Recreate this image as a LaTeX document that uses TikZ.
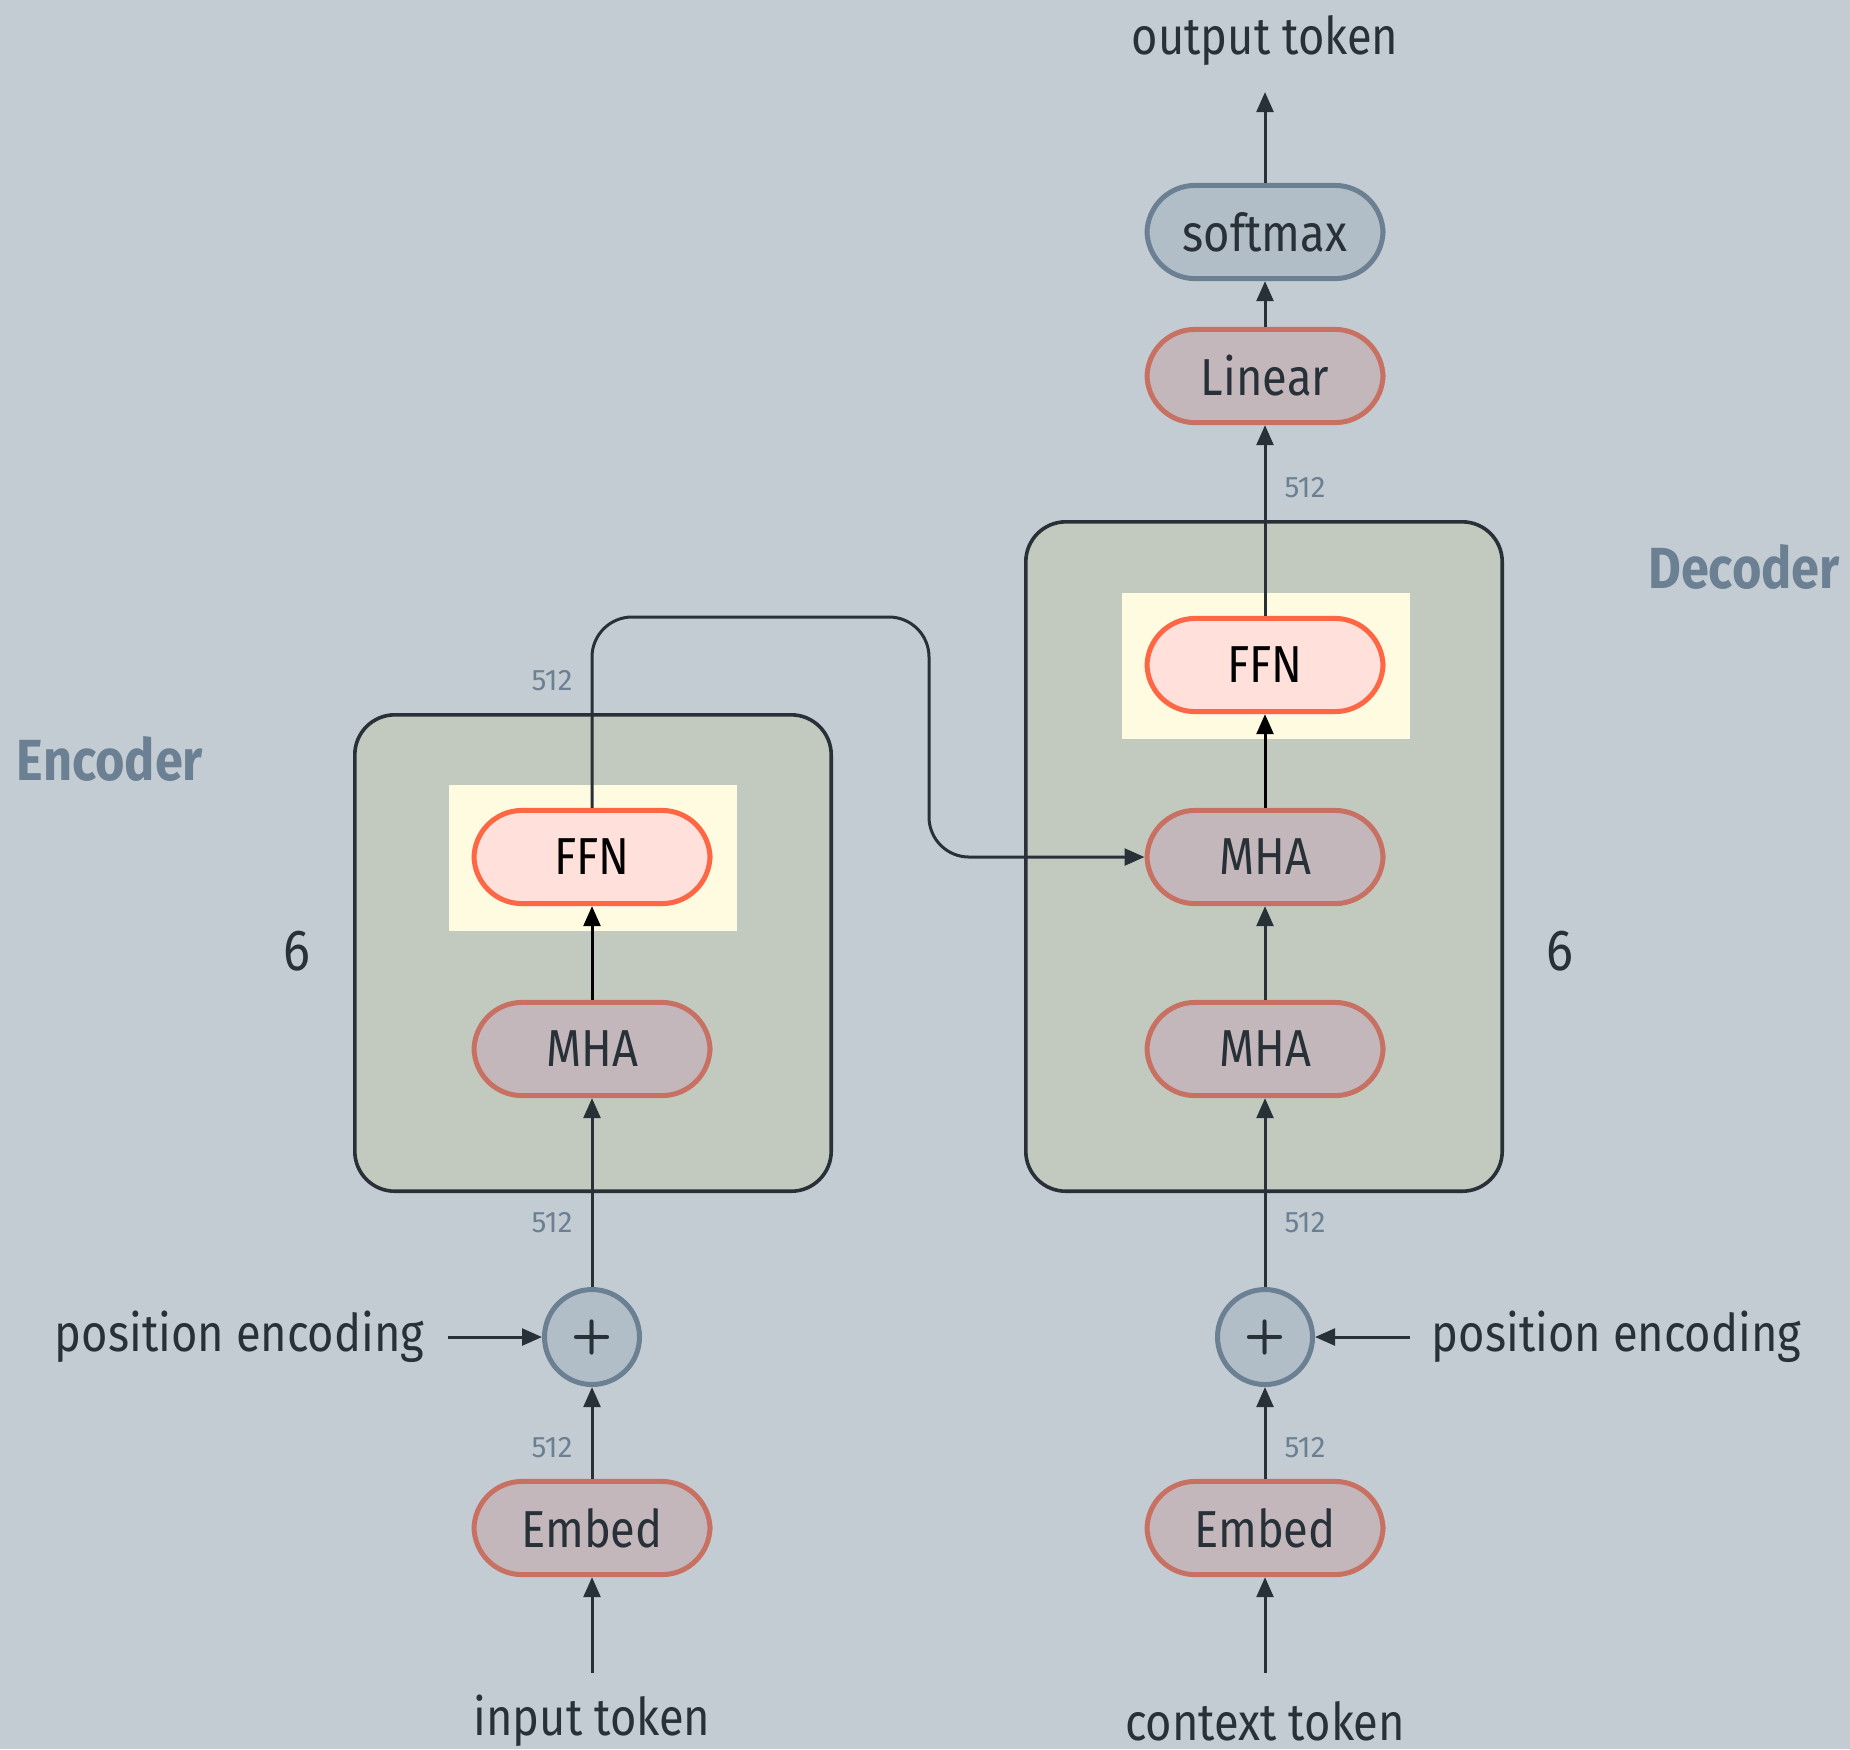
\documentclass[tikz,border=0pt]{standalone}
\usepackage{fontspec}
\setmainfont{Fira Sans}[FakeStretch=0.87]
\newfontfamily\dimfont{Fira Sans}
\usetikzlibrary{arrows.meta}
\definecolor{bg}{HTML}{C4CCD3}
\definecolor{boxfill}{HTML}{C2CABF}
\definecolor{boxline}{HTML}{2A3038}
\definecolor{hl}{HTML}{FFFBE1}
\definecolor{ffnfill}{HTML}{FFE0DA}
\definecolor{ffnline}{HTML}{FF6644}
\definecolor{mhafill}{HTML}{C3B7BB}
\definecolor{mhaline}{HTML}{C87062}
\definecolor{softfill}{HTML}{B1BDC7}
\definecolor{slate}{HTML}{6B8093}
\definecolor{txt}{HTML}{283038}
\begin{document}
\begin{tikzpicture}[x=0.25pt,y=-0.25pt,
  pill/.style={rectangle, rounded corners=12pt, minimum width=59pt, minimum height=23.3pt, inner sep=0pt, line width=1.25pt, font=\fontsize{13}{15}\selectfont, text=txt},
  mha/.style={pill, draw=mhaline, fill=mhafill},
  ffn/.style={pill, draw=ffnline, fill=ffnfill, text=black},
  soft/.style={pill, draw=slate, fill=softfill},
  plus/.style={circle, draw=slate, fill=softfill, line width=1.25pt, minimum size=23.75pt, inner sep=0pt, font=\sffamily\bfseries\fontsize{12}{14}\selectfont, text=txt},
  blockbox/.style={rectangle, draw=boxline, fill=boxfill, line width=0.9pt, rounded corners=10pt, minimum width=119.1pt, inner sep=0pt},
  hlbox/.style={rectangle, fill=hl, minimum width=72pt, minimum height=36.5pt, inner sep=0pt},
  conn/.style={line width=0.75pt, draw=txt},
  arr/.style={conn, -{Triangle[length=5pt,width=4.2pt]}},
  dimlbl/.style={font=\dimfont\fontsize{7.4}{8}\selectfont, text=slate, inner sep=0pt},
  lbl/.style={font=\fontsize{13}{15}\selectfont, text=txt, inner sep=0pt},
  biglbl/.style={font=\fontsize{14.5}{17}\selectfont, text=txt, inner sep=0pt},
  title/.style={font=\bfseries\fontsize{14.5}{17}\selectfont, text=slate, inner sep=0pt}
]
\path[fill=bg] (0,0) rectangle (1850,1749);
\useasboundingbox (0,0) rectangle (1850,1749);

% blocks
\node[blockbox, minimum height=119.1pt] (encbox) at (593,953) {};
\node[blockbox, minimum height=167.35pt] (decbox) at (1264,856.5) {};
\node[hlbox] (enchl) at (593,857.5) {};
\node[hlbox] (dechl) at (1266,666) {};

% encoder column
\node[ffn] (ffn1) at (592,857) {FFN};
\node[mha] (mha1) at (592,1049) {MHA};
\node[plus] (plus1) at (592,1337) {+};
\node[mha] (emb1) at (592,1528) {Embed};
\node[lbl] (intok) at (592,1721) {input token};
\coordinate (in1) at (592,1673);
\node[lbl, anchor=east] (pe1) at (425,1337) {position encoding};
\coordinate (pe1s) at (448,1337);

% decoder column
\node[ffn] (ffn2) at (1265,665) {FFN};
\node[mha] (mha3) at (1265,857) {MHA};
\node[mha] (mha2) at (1265,1049) {MHA};
\node[plus] (plus2) at (1265,1337) {+};
\node[mha] (emb2) at (1265,1528) {Embed};
\node[lbl] (ctxtok) at (1265,1721) {context token};
\coordinate (in2) at (1265,1673);
\node[lbl, anchor=west] (pe2) at (1431,1337) {position encoding};
\coordinate (pe2s) at (1410,1337);
\node[mha] (lin) at (1265,376) {Linear};
\node[soft] (soft) at (1265,232) {softmax};
\coordinate (outtip) at (1265,92);
\node[lbl] (outtok) at (1265,41) {output token};

% labels
\node[title] (enclbl) at (110,759) {Encoder};
\node[title] (declbl) at (1744,567) {Decoder};
\node[biglbl] (n6a) at (297,951) {6};
\node[biglbl] (n6b) at (1560,951) {6};
\node[dimlbl] (d1) at (552,1223) {512};
\node[dimlbl] (d2) at (552,1448) {512};
\node[dimlbl] (d3) at (552,681) {512};
\node[dimlbl] (d4) at (1305,1223) {512};
\node[dimlbl] (d5) at (1305,1448) {512};
\node[dimlbl] (d6) at (1305,488) {512};

% encoder connectors
\draw[arr] (in1) -- (emb1);
\draw[arr] (emb1) -- (plus1);
\draw[arr] (pe1s) -- (plus1);
\draw[arr] (plus1) -- (mha1);
\draw[arr, draw=black, -{Triangle[length=5pt,width=4.2pt,fill=black]}] (mha1) -- (ffn1);

% cross connector
\draw[arr, rounded corners=10pt] (ffn1.north) -- (592,617) -- (929,617) -- (929,857) -- (mha3.west);

% decoder connectors
\draw[arr] (in2) -- (emb2);
\draw[arr] (emb2) -- (plus2);
\draw[arr] (pe2s) -- (plus2);
\draw[arr] (plus2) -- (mha2);
\draw[arr] (mha2) -- (mha3);
\draw[arr, draw=black, -{Triangle[length=5pt,width=4.2pt,fill=black]}] (mha3) -- (ffn2);
\draw[arr] (ffn2) -- (lin);
\draw[arr] (lin) -- (soft);
\draw[arr] (soft) -- (outtip);
\end{tikzpicture}
\end{document}
